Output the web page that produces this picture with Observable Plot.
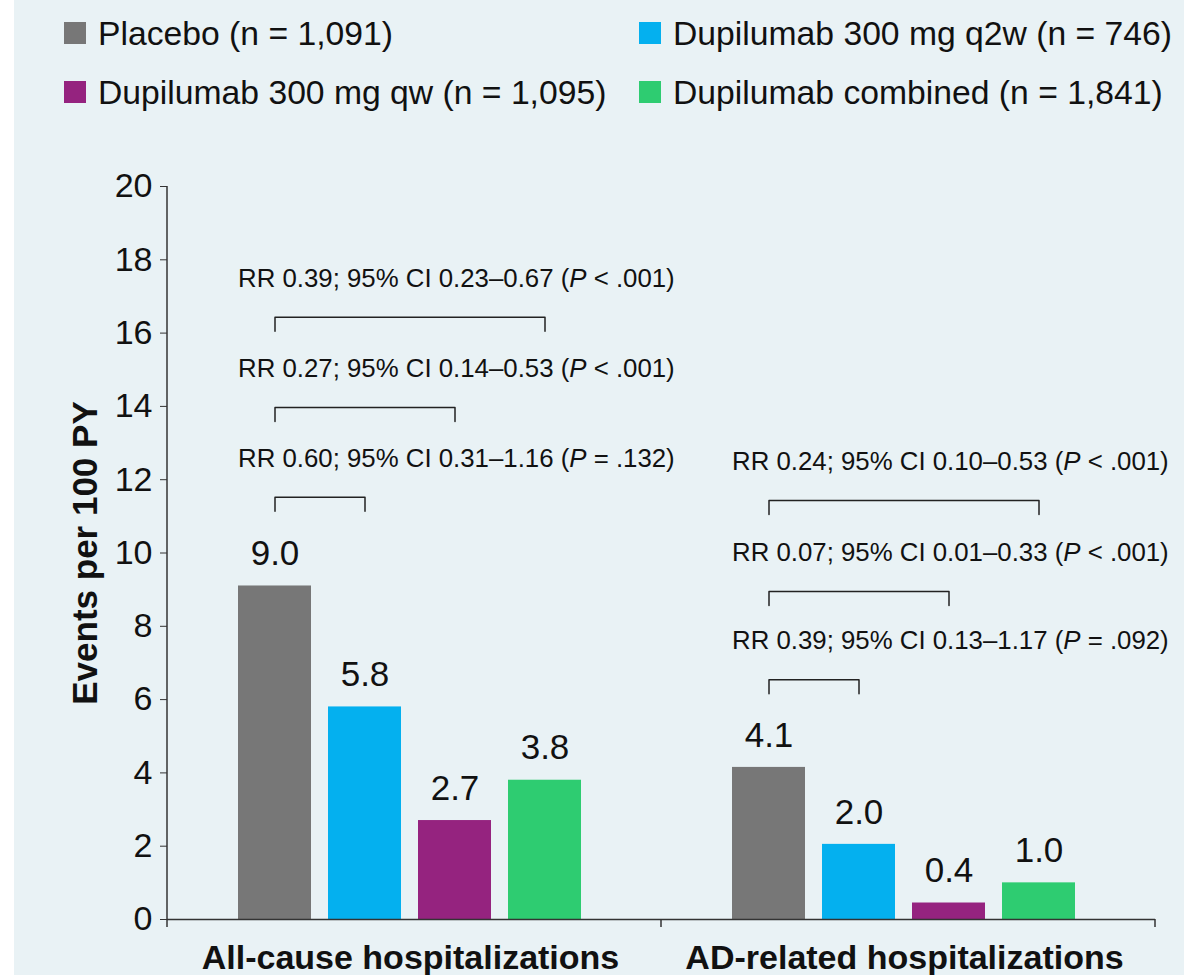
<!DOCTYPE html>
<html><head><meta charset="utf-8">
<script src="https://cdn.jsdelivr.net/npm/d3@7"></script>
<script src="https://cdn.jsdelivr.net/npm/@observablehq/plot@0.6"></script>
<style>
html,body{margin:0;padding:0;background:#e9f2f5;}
body{width:1184px;height:975px;overflow:hidden;position:relative;font-family:"Liberation Sans",Arial,Helvetica,sans-serif;}
#strip{position:absolute;left:0;top:0;width:14px;height:975px;background:#fff;}
#legend{position:absolute;left:0;top:0;width:1184px;height:120px;}
.item{position:absolute;display:flex;align-items:center;font-size:33.7px;color:#111;white-space:nowrap;height:40px;}
.sw{width:22px;height:22px;margin-right:12px;flex:none;}
#chart{position:absolute;left:0;top:120px;}
</style></head><body>
<div id="strip"></div><div id="legend"></div><div id="chart"></div>
<script>
// ---- data ----
const groups = ["All-cause hospitalizations", "AD-related hospitalizations"];
const series = ["Placebo", "Dupilumab 300 mg q2w", "Dupilumab 300 mg qw", "Dupilumab combined"];
const legendLabels = ["Placebo (n = 1,091)", "Dupilumab 300 mg q2w (n = 746)", "Dupilumab 300 mg qw (n = 1,095)", "Dupilumab combined (n = 1,841)"];
const seriesColors = ["#777777", "#04b0ef", "#95237f", "#2ecc71"];
const allCauseRates = [9.1, 5.8, 2.7, 3.8];
const adRelatedRates = [4.15, 2.05, 0.45, 1.0];
const allCauseLabels = ["9.0", "5.8", "2.7", "3.8"];
const adRelatedLabels = ["4.1", "2.0", "0.4", "1.0"];
// brackets: comparator vs Placebo, top to bottom
const bracketComparators = ["Dupilumab combined", "Dupilumab 300 mg qw", "Dupilumab 300 mg q2w"];
const allCauseBracketLevels = [16.43, 13.97, 11.52];
const adRelatedBracketLevels = [11.43, 8.95, 6.54];
const allCauseRR = [
  "RR 0.39; 95% CI 0.23–0.67 (P < .001)",
  "RR 0.27; 95% CI 0.14–0.53 (P < .001)",
  "RR 0.60; 95% CI 0.31–1.16 (P = .132)"
];
const adRelatedRR = [
  "RR 0.24; 95% CI 0.10–0.53 (P < .001)",
  "RR 0.07; 95% CI 0.01–0.33 (P < .001)",
  "RR 0.39; 95% CI 0.13–1.17 (P = .092)"
];
const yTicks = [0, 2, 4, 6, 8, 10, 12, 14, 16, 18, 20];
const bracketDrop = 0.38;

// ---- legend ----
const legendPos = [[64, 13], [639, 13], [64, 72], [639, 72]];
const legend = document.getElementById("legend");
series.forEach((s, i) => {
  const d = document.createElement("div");
  d.className = "item";
  d.style.left = legendPos[i][0] + "px";
  d.style.top = legendPos[i][1] + "px";
  const sw = document.createElement("span");
  sw.className = "sw"; sw.style.background = seriesColors[i];
  d.appendChild(sw);
  d.appendChild(document.createTextNode(legendLabels[i]));
  legend.appendChild(d);
});

// ---- tables ----
const rates = [allCauseRates, adRelatedRates];
const rateLabels = [allCauseLabels, adRelatedLabels];
const levels = [allCauseBracketLevels, adRelatedBracketLevels];
const rrTexts = [allCauseRR, adRelatedRR];
const rows = [], bracketPts = [], rrRows = [];
groups.forEach((g, gi) => {
  series.forEach((s, si) => rows.push({group: g, series: s, value: rates[gi][si], label: rateLabels[gi][si]}));
  bracketComparators.forEach((c, bi) => {
    const lv = levels[gi][bi], id = gi + "-" + bi;
    bracketPts.push({group: g, id, series: series[0], y: lv - bracketDrop});
    bracketPts.push({group: g, id, series: series[0], y: lv});
    bracketPts.push({group: g, id, series: c, y: lv});
    bracketPts.push({group: g, id, series: c, y: lv - bracketDrop});
    rrRows.push({group: g, series: series[0], y: lv, text: rrTexts[gi][bi]});
  });
});

const chart = Plot.plot({
  width: 1184, height: 855,
  marginTop: 66, marginBottom: 56, marginLeft: 167, marginRight: 29,
  style: {fontFamily: '"Liberation Sans", Arial, Helvetica, sans-serif', background: "transparent", color: "#111", overflow: "visible"},
  fx: {domain: groups, padding: 0},
  x: {domain: series, paddingInner: 0.184, paddingOuter: 0.815, align: 0.47, axis: null},
  y: {domain: [0, 20]},
  color: {domain: series, range: seriesColors},
  marks: [
    Plot.barY(rows, {fx: "group", x: "series", y: "value", fill: "series"}),
    Plot.ruleY([0], {stroke: "#333", strokeWidth: 1.5}),
    Plot.text(rows, {fx: "group", x: "series", y: "value", text: "label", dy: -32, fontSize: 35, lineAnchor: "middle", fill: "#111"}),
    Plot.line(bracketPts, {fx: "group", x: "series", y: "y", z: "id", stroke: "#222", strokeWidth: 1.5}),
    Plot.text(rrRows, {fx: "group", x: "series", y: "y", text: "text", textAnchor: "start", dx: -37, dy: -39, lineAnchor: "middle", fontSize: 25.8, fill: "#111"}),
    Plot.axisY({ticks: yTicks, tickSize: 7, tickPadding: 8, fontSize: 34, stroke: "#333", label: "Events per 100 PY", labelAnchor: "center", labelOffset: 95}),
    Plot.axisFx({anchor: "bottom", tickSize: 0, tickPadding: 25, fontSize: 34, fontWeight: "bold", label: null, dx: -4})
  ]
});
document.getElementById("chart").appendChild(chart);

// ---- post-processing: axis line, boundary ticks, italic P, bold y title ----
const svg = d3.select(chart);
const fxS = chart.scale("fx"), yS = chart.scale("y");
const x0 = fxS.apply(groups[0]);
const xMid = fxS.apply(groups[1]);
const xEnd = fxS.apply(groups[1]) + fxS.bandwidth;
const yTop = yS.apply(20), yZero = yS.apply(0);
const g = svg.append("g").attr("stroke", "#333").attr("stroke-width", 1.5);
g.append("line").attr("x1", x0).attr("x2", x0).attr("y1", yTop).attr("y2", yZero + 8);
[xMid, xEnd].forEach(x => g.append("line").attr("x1", x).attr("x2", x).attr("y1", yZero).attr("y2", yZero + 8));

svg.selectAll("text").each(function() {
  const s = this.textContent;
  if (!s.startsWith("RR ")) return;
  const i = s.indexOf("(P");
  if (i < 0) return;
  const t = d3.select(this);
  t.selectAll("*").remove();
  t.text(null);
  t.append("tspan").text(s.slice(0, i + 1));
  t.append("tspan").attr("font-style", "italic").text("P");
  t.append("tspan").text("\u00a0" + s.slice(i + 2).replace(/^ /, ""));
});
svg.selectAll('g[aria-label="y-axis label"] text')
  .attr("font-weight", "bold").attr("font-size", 35).text("Events per 100 PY");
svg.selectAll('g[aria-label="fx-axis tick label"] text').attr("font-weight", "bold");
</script>
</body></html>
